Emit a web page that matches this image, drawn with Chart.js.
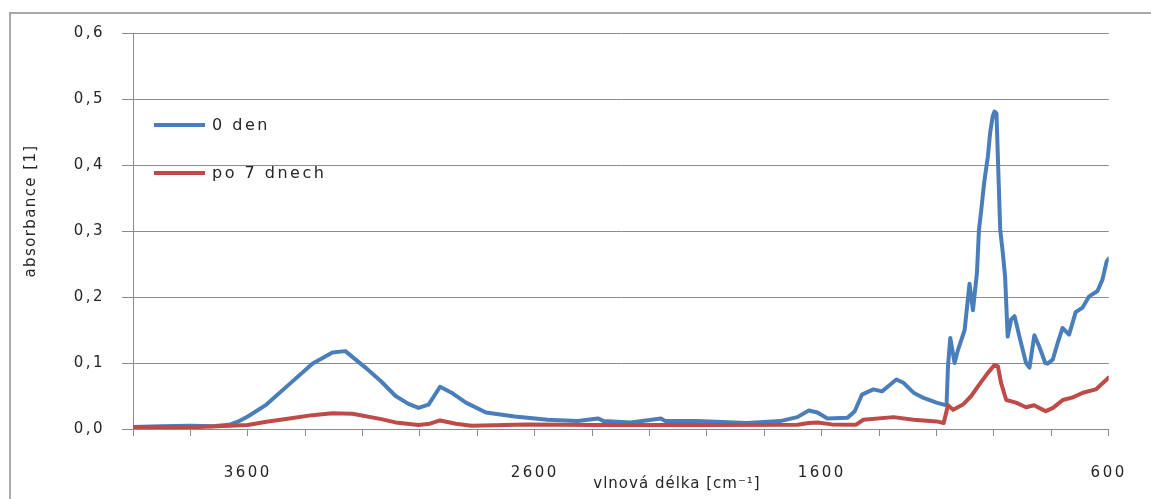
<!DOCTYPE html>
<html lang="cs">
<head>
<meta charset="utf-8">
<title>absorbance</title>
<script src="https://cdn.jsdelivr.net/npm/chart.js@4.4.1/dist/chart.umd.min.js"></script>
<style>
    html, body { margin: 0; padding: 0; background: #fff; overflow: hidden; }
    canvas { display: block; }
</style>
</head>
<body>
<canvas id="graf" width="1151" height="499"></canvas>
<script>
// vlnočty (cm-1) a absorbance pro vzorek 0 den
const vlnocetDen0 = [4000, 3900, 3800, 3720, 3660, 3630, 3600, 3535, 3455, 3375, 3305, 3260, 3190, 3135, 3085,
    3040, 3005, 2970, 2930, 2890, 2840, 2770, 2670, 2555, 2450, 2380, 2360, 2265, 2160, 2145, 2035, 1860, 1745,
    1685, 1645, 1615, 1580, 1510, 1485, 1460, 1420, 1390, 1365, 1340, 1315, 1280, 1245, 1200, 1175, 1165, 1160,
    1152, 1137, 1125, 1102, 1085, 1073, 1059, 1052, 1044, 1034, 1021, 1013, 1004, 998, 991, 986, 978, 969,
    961, 952, 940, 928, 911, 888, 876, 859, 842, 821, 813, 795, 778, 761, 738, 715, 691, 668, 639, 622, 607, 600];
const absDen0 = [0.003, 0.004, 0.005, 0.004, 0.007, 0.012, 0.019, 0.037, 0.068, 0.099, 0.116, 0.118, 0.093, 0.072, 0.050,
    0.038, 0.032, 0.037, 0.064, 0.055, 0.040, 0.025, 0.019, 0.014, 0.012, 0.016, 0.012, 0.010, 0.016, 0.012, 0.012, 0.009, 0.012,
    0.018, 0.028, 0.025, 0.016, 0.017, 0.027, 0.052, 0.060, 0.057, 0.066, 0.075, 0.070, 0.055, 0.047, 0.040, 0.037, 0.036, 0.095,
    0.138, 0.100, 0.120, 0.150, 0.220, 0.180, 0.237, 0.302, 0.332, 0.373, 0.413, 0.449, 0.474, 0.481, 0.478, 0.410, 0.302, 0.267,
    0.231, 0.140, 0.166, 0.171, 0.140, 0.100, 0.093, 0.142, 0.125, 0.100, 0.099, 0.105, 0.130, 0.153, 0.143, 0.177, 0.184, 0.201, 0.209, 0.226, 0.254, 0.258];

// vlnočty a absorbance po 7 dnech
const vlnocetDen7 = [4000, 3770, 3600, 3535, 3455, 3375, 3305, 3235, 3135, 3085, 3005, 2965, 2930, 2875, 2820, 2625,
    2380, 2035, 1685, 1645, 1615, 1565, 1480, 1455, 1350, 1280, 1200, 1175, 1160, 1142, 1108, 1079, 1050, 1021,
    998, 986, 975, 957, 923, 888, 860, 829, 819, 794, 760, 725, 690, 645, 607, 600];
const absDen7 = [0.003, 0.003, 0.006, 0.011, 0.016, 0.021, 0.024, 0.023, 0.015, 0.010, 0.006, 0.008, 0.013, 0.008, 0.005, 0.007,
    0.006, 0.006, 0.0065, 0.009, 0.010, 0.007, 0.0065, 0.014, 0.018, 0.014, 0.0115, 0.009, 0.036, 0.029, 0.037, 0.050, 0.068, 0.085,
    0.097, 0.095, 0.070, 0.044, 0.040, 0.033, 0.036, 0.029, 0.027, 0.032, 0.044, 0.048, 0.055, 0.060, 0.075, 0.078];

const popisky = ["0 den", "po 7 dnech"];
const barvy = ["#4a7ebb", "#be4b48"];
const xPopisky = [3600, 2600, 1600, 600];
const yRozsah = [0, 0.6];

const body = (vx, vy) => vx.map((x, i) => ({ x: x, y: vy[i] }));

const textBarva = "#262626";
const mrizka = "#8c8c8c";

// rámeček, popisy os a legenda uvnitř grafu
const doplnky = {
    id: "doplnky",
    beforeDraw(chart) {
        const ctx = chart.ctx;
        ctx.save();
        ctx.fillStyle = "#fff";
        ctx.fillRect(0, 0, chart.width, chart.height);
        ctx.strokeStyle = "#a8a8a8";
        ctx.lineWidth = 2;
        ctx.strokeRect(10, 13, chart.width + 40, chart.height + 40);
        ctx.restore();
        ctx.letterSpacing = "2.5px";
    },
    afterDraw(chart) {
        const ctx = chart.ctx;
        const a = chart.chartArea;
        ctx.save();
        ctx.fillStyle = textBarva;

        // popis osy y
        ctx.font = "15px 'DejaVu Sans'";
        ctx.letterSpacing = "1.4px";
        ctx.textAlign = "center";
        ctx.textBaseline = "middle";
        ctx.save();
        ctx.translate(31, 211);
        ctx.rotate(-Math.PI / 2);
        ctx.fillText("absorbance [1]", 0, 0);
        ctx.restore();

        // popis osy x
        ctx.letterSpacing = "1px";
        ctx.fillText("vlnová délka [cm⁻¹]", 677, 484);

        // legenda
        ctx.font = "16px 'DejaVu Sans'";
        ctx.letterSpacing = "2.5px";
        ctx.textAlign = "left";
        chart.data.datasets.forEach((ds, i) => {
            const y = a.top + 92 + i * 48;
            ctx.strokeStyle = ds.borderColor;
            ctx.lineWidth = 4;
            ctx.beginPath();
            ctx.moveTo(a.left + 21, y);
            ctx.lineTo(a.left + 72, y);
            ctx.stroke();
            ctx.fillStyle = textBarva;
            ctx.fillText(ds.label, a.left + 79, y + 1);
        });
        ctx.restore();
    }
};

new Chart(document.getElementById("graf"), {
    type: "line",
    data: {
        datasets: [
            {
                label: popisky[0],
                data: body(vlnocetDen0, absDen0),
                borderColor: barvy[0],
                borderWidth: 4,
                pointRadius: 0,
                tension: 0,
                order: 1
            },
            {
                label: popisky[1],
                data: body(vlnocetDen7, absDen7),
                borderColor: barvy[1],
                borderWidth: 4,
                pointRadius: 0,
                tension: 0,
                order: 0
            }
        ]
    },
    options: {
        responsive: false,
        animation: false,
        layout: { padding: { left: 18, top: 33, right: 38, bottom: 0 } },
        elements: { line: { borderJoinStyle: "round", borderCapStyle: "round" } },
        scales: {
            x: {
                type: "linear",
                reverse: true,
                min: 600,
                max: 4000,
                afterFit: (s) => { s.height = 70; },
                grid: { drawOnChartArea: false, drawTicks: true, tickLength: 7, color: mrizka },
                border: { color: mrizka, width: 1 },
                ticks: {
                    stepSize: 200,
                    autoSkip: false,
                    maxRotation: 0,
                    padding: 28,
                    color: textBarva,
                    font: { family: "DejaVu Sans", size: 15 },
                    callback: (v) => xPopisky.includes(v) ? String(v) : ""
                }
            },
            y: {
                min: yRozsah[0],
                max: yRozsah[1],
                afterFit: (s) => { s.width = 115; },
                grid: { color: mrizka, tickLength: 11, lineWidth: 1 },
                border: { color: mrizka, width: 1 },
                ticks: {
                    stepSize: 0.1,
                    padding: 17,
                    color: textBarva,
                    font: { family: "DejaVu Sans", size: 15 },
                    callback: (v) => v.toFixed(1).replace(".", ",")
                }
            }
        },
        plugins: {
            legend: { display: false },
            tooltip: { enabled: false }
        }
    },
    plugins: [doplnky]
});
</script>
</body>
</html>
